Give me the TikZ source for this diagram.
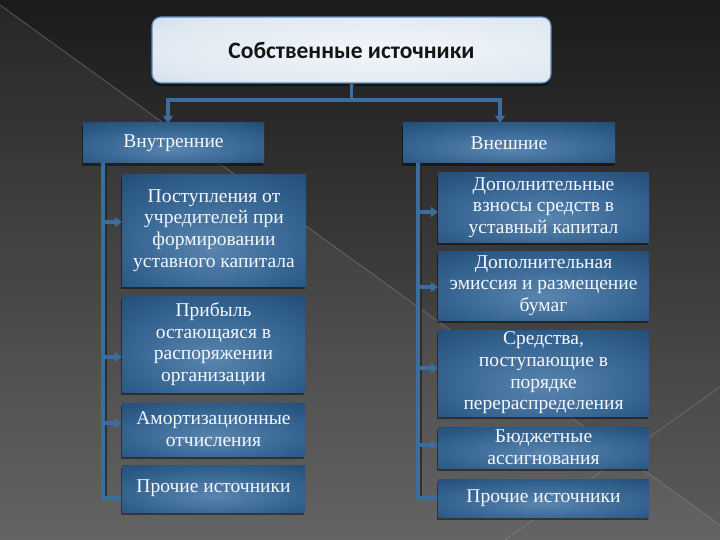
\documentclass[tikz,border=0pt]{standalone}
\usepackage{fontspec}
\setmainfont{Liberation Serif}
\newfontfamily\carl{Carlito}
\usetikzlibrary{arrows.meta,shadows,calc}
\definecolor{bgtop}{HTML}{1B1B1B}
\definecolor{bgbot}{HTML}{5C5C5C}
\definecolor{bxin}{HTML}{5985AF}
\definecolor{bxmid}{HTML}{33628F}
\definecolor{bxout}{HTML}{173F68}
\definecolor{tpin}{HTML}{F2F6FA}
\definecolor{tpout}{HTML}{B3C8DE}
\definecolor{tpline}{HTML}{5A88B6}
\definecolor{conncol}{HTML}{3B6E9F}
\definecolor{txtcol}{HTML}{F4F7FB}
\pgfdeclareradialshading{boxshade}{\pgfpoint{0bp}{-8bp}}{color(0bp)=(bxin); color(25bp)=(bxmid); color(48bp)=(bxout); color(75bp)=(bxout)}
\pgfdeclareradialshading{topshade}{\pgfpoint{5bp}{0bp}}{color(0bp)=(tpin); color(30bp)=(tpin!70!tpout); color(52bp)=(tpout); color(75bp)=(tpout)}
\tikzset{
  bbox/.style={shading=boxshade, inner sep=0pt, align=center, text=txtcol,
    font=\fontsize{19.5}{21.7}\selectfont,
    drop shadow={shadow xshift=-1pt, shadow yshift=-3pt, fill=black, opacity=0.45}},
  topbox/.style={shading=topshade, draw=tpline, line width=1.2pt, rounded corners=9pt,
    inner sep=0pt, font=\carl\bfseries\fontsize{23.5}{27}\selectfont, text=black!92,
    drop shadow={shadow xshift=0pt, shadow yshift=-3pt, fill=black, opacity=0.5}},
  conn/.style={draw=conncol, line width=3.4pt},
  connsh/.style={draw=black!85, line width=2.6pt, opacity=0.8},
  arr/.style={-{Triangle[width=10pt,length=7pt]}},
}
\begin{document}
\begin{tikzpicture}[x=1pt,y=-1pt]
\useasboundingbox (0,0) rectangle (720,540);
% background
\fill[top color=bgtop, bottom color=bgbot] (0,0) rectangle (720,540);
\fill[white, opacity=0.05] (0,5) -- (720,525) -- (720,540) -- (0,540) -- cycle;
\draw[black!45!white, opacity=0.5, line width=0.8pt] (0,5) -- (720,525);
\draw[black!45!white, opacity=0.5, line width=0.8pt] (505,540) -- (720,387);

% nodes
\node[topbox, minimum width=399pt, minimum height=66pt] (top) at (351.5,50) {Собственные источники};
\node[bbox, minimum width=181pt, minimum height=40pt] (LH) at (173.5,143) {Внутренние};
\node[bbox, minimum width=212pt, minimum height=40pt] (RH) at (509,143) {Внешние};

\node[bbox, minimum width=184pt, minimum height=111pt] (L1) at (214,230.5) {Поступления от\\учредителей при\\формировании\\уставного капитала};
\node[bbox, minimum width=183pt, minimum height=96pt] (L2) at (213.5,344) {Прибыль\\остающаяся в\\распоряжении\\организации};
\node[bbox, minimum width=183pt, minimum height=53pt] (L3) at (213.5,429.5) {Амортизационные\\отчисления};
\node[bbox, minimum width=183pt, minimum height=47pt] (L4) at (213.5,488.5) {Прочие источники};

\node[bbox, minimum width=211pt, minimum height=69pt] (R1) at (543.5,207.5) {Дополнительные\\взносы средств в\\уставный капитал};
\node[bbox, minimum width=211pt, minimum height=69pt] (R2) at (543.5,285.5) {Дополнительная\\эмиссия и размещение\\бумаг};
\node[bbox, minimum width=211pt, minimum height=86pt] (R3) at (543.5,373) {Средства,\\поступающие в\\порядке\\перераспределения};
\node[bbox, minimum width=211pt, minimum height=41pt] (R4) at (543.5,447.5) {Бюджетные\\ассигнования};
\node[bbox, minimum width=211pt, minimum height=38pt] (R5) at (543.5,498) {Прочие источники};

% coordinates
\coordinate (J) at (351.5,100);
\coordinate (JL) at (168,100);
\coordinate (JR) at (500,100);
\coordinate (lt) at (103,163);
\coordinate (la1) at (103,222);
\coordinate (la2) at (103,357);
\coordinate (la3) at (103,423);
\coordinate (la4) at (103,498);
\coordinate (rt) at (418,163);
\coordinate (ra1) at (418,212);
\coordinate (ra2) at (418,287);
\coordinate (ra3) at (418,368);
\coordinate (ra4) at (418,445);
\coordinate (ra5) at (418,498);

% connectors: top
\draw[connsh] ([xshift=2.5pt]top.south) -- ([xshift=2.5pt]J);
\draw[connsh] ([yshift=-2.5pt]JL) -- ([yshift=-2.5pt]JR);
\draw[conn] (top.south) -- (J);
\draw[conn] ([xshift=-1.7pt]JL) -- ([xshift=1.7pt]JR);
\draw[conn, arr] (JL) -- (JL |- LH.north);
\draw[conn, arr] (JR) -- (JR |- RH.north);

% left column
\draw[connsh] ([xshift=3pt]lt) -- ([xshift=3pt]la4);
\draw[conn] (lt) -- ([yshift=1.7pt]la4);
\foreach \a/\b in {la1/L1, la2/L2, la3/L3, la4/L4}{
  \draw[conn, arr] ([xshift=-1.7pt]\a) -- (\b.west |- \a);
}
% right column
\draw[connsh] ([xshift=3pt]rt) -- ([xshift=3pt]ra5);
\draw[conn] (rt) -- ([yshift=1.7pt]ra5);
\foreach \a/\b in {ra1/R1, ra2/R2, ra3/R3, ra4/R4, ra5/R5}{
  \draw[conn, arr] ([xshift=-1.7pt]\a) -- (\b.west |- \a);
}
\end{tikzpicture}
\end{document}
